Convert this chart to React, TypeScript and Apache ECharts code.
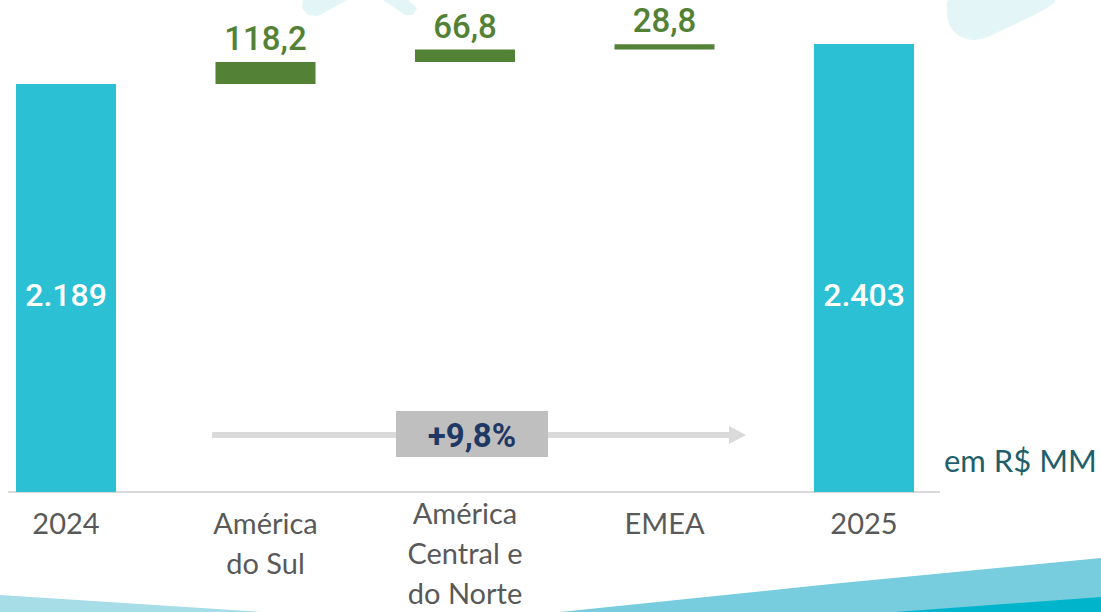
import React, { useEffect, useRef } from 'react';
import * as echarts from 'echarts';

const categories = ['2024', 'América\ndo Sul', 'América\nCentral e\ndo Norte', 'EMEA', '2025'];
const totalValues = [2189, 0, 0, 0, 2403];
const deltaValues = [0, 118.2, 66.8, 28.8, 0];
const totalLabels = ['2.189', '', '', '', '2.403'];
const deltaLabels = ['', '118,2', '66,8', '28,8', ''];
const growthLabel = '+9,8%';
const unitLabel = 'em R$ MM';

const baseValues = deltaValues.map((d, i) =>
  d === 0 ? 0 : totalValues[0] + deltaValues.slice(0, i).reduce((a, b) => a + b, 0)
);

const TEAL = '#2CC0D4';
const GREEN = '#538135';
const DECO = '#E4F5F8';
const NUM_FONT = 'Roboto, sans-serif';
const TXT_FONT = 'Lato, "Open Sans", sans-serif';

export default function App() {
  const ref = useRef<HTMLDivElement>(null);
  useEffect(() => {
    if (!ref.current) return;
    const chart = echarts.init(ref.current, null, { renderer: 'svg' });
    const catData = categories.map((c, i) =>
      i === 2 ? { value: c, textStyle: { padding: [-10, 0, 0, 0] } } : c
    );
    chart.setOption({
      animation: false,
      backgroundColor: '#ffffff',
      grid: { left: 66, right: 237, top: 7.4, bottom: 120, containLabel: false, outerBoundsMode: 'none' },
      xAxis: {
        type: 'category',
        data: catData,
        boundaryGap: false,
        axisLine: { show: false },
        axisTick: { show: false },
        splitLine: { show: false },
        axisLabel: {
          interval: 0,
          margin: 10,
          fontFamily: TXT_FONT,
          fontSize: 29,
          color: '#595959',
          lineHeight: 40,
          verticalAlign: 'top',
        },
      },
      yAxis: { type: 'value', min: 0, max: 2600, show: false, splitLine: { show: false } },
      graphic: [
        { type: 'polygon', z: 0, shape: { points: [[303, 0], [347, 0], [318, 16], [308, 15], [302, 8]] }, style: { fill: DECO } },
        { type: 'polygon', z: 0, shape: { points: [[383, 0], [408, 0], [417, 8], [413, 15], [405, 15]] }, style: { fill: DECO } },
        { type: 'polygon', z: 0, shape: { smooth: 0.3, points: [[949, 0], [1055, 0], [990, 36], [972, 40], [958, 35], [949, 24], [947, 10]] }, style: { fill: DECO } },
        { type: 'polygon', z: 0, shape: { points: [[0, 595], [262, 612], [0, 612]] }, style: { fill: '#A6DDE6' } },
        { type: 'polygon', z: 0, shape: { points: [[560, 612], [831, 584], [1101, 558], [1101, 612]] }, style: { fill: '#77CDDD' } },
        { type: 'polygon', z: 0, shape: { points: [[895, 612], [1101, 597], [1101, 612]] }, style: { fill: '#00B4CB' } },
        { type: 'line', z: 0, shape: { x1: 8, y1: 492, x2: 940, y2: 492 }, style: { stroke: '#D9D9D9', lineWidth: 2 } },
        { type: 'line', z: 0, shape: { x1: 212, y1: 435, x2: 732, y2: 435 }, style: { stroke: '#DADADA', lineWidth: 6 } },
        { type: 'polygon', z: 0, shape: { points: [[729, 426], [746, 435], [729, 444]] }, style: { fill: '#DADADA' } },
        { type: 'rect', z: 1, shape: { x: 396, y: 411, width: 152, height: 46 }, style: { fill: '#BFBFBF' } },
        {
          type: 'text', z: 2, x: 472, y: 435,
          style: { text: growthLabel, fill: '#1F3864', font: `bold 33px ${NUM_FONT}`, align: 'center', verticalAlign: 'middle' },
        },
        {
          type: 'text', z: 2, x: 944, y: 460,
          style: { text: unitLabel, fill: '#1F5F6B', font: `31px ${TXT_FONT}`, align: 'left', verticalAlign: 'middle' },
        },
      ],
      series: [
        {
          type: 'bar', stack: 'w', barWidth: 100, clip: false, data: baseValues,
          itemStyle: { color: 'transparent' }, silent: true,
        },
        {
          type: 'bar', stack: 'w', barWidth: 100, clip: false, data: deltaValues,
          itemStyle: { color: GREEN },
          label: {
            show: true, position: 'top', distance: 7,
            formatter: (p: any) => deltaLabels[p.dataIndex],
            fontFamily: NUM_FONT, fontSize: 33, color: GREEN, fontWeight: 500,
          },
        },
        {
          type: 'bar', stack: 'w', barWidth: 100, clip: false, data: totalValues,
          itemStyle: { color: TEAL },
          label: {
            show: true, position: 'insideBottom', distance: 180,
            formatter: (p: any) => totalLabels[p.dataIndex],
            fontFamily: NUM_FONT, fontSize: 32, color: '#ffffff', fontWeight: 500, lineHeight: 34,
          },
        },
      ],
    });
    return () => chart.dispose();
  }, []);
  return <div ref={ref} style={{ position: 'fixed', left: 0, top: 0, width: 1101, height: 612 }} />;
}
